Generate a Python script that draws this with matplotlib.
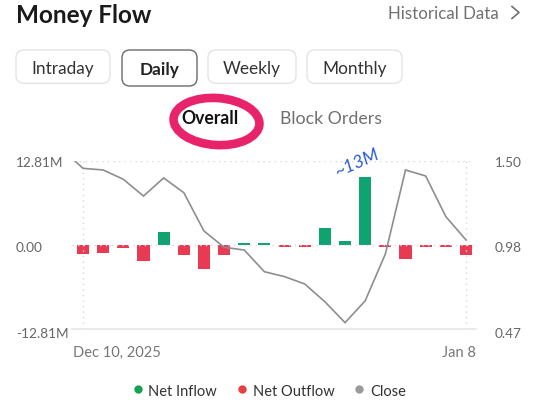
import numpy as np
import matplotlib
matplotlib.use("Agg")
import matplotlib.pyplot as plt
from matplotlib.patches import FancyBboxPatch, Ellipse
import matplotlib.transforms as mtransforms

# ---------------- data ----------------
dates = ["Dec 10, 2025", "Dec 11", "Dec 12", "Dec 15", "Dec 16", "Dec 17", "Dec 18",
         "Dec 19", "Dec 22", "Dec 23", "Dec 24", "Dec 26", "Dec 29", "Dec 30",
         "Dec 31", "Jan 2", "Jan 5", "Jan 6", "Jan 7", "Jan 8"]
net_flow = [-1.37, -1.27, -0.50, -2.39, 1.93, -1.53, -3.66, -1.58, 0.25, 0.25,
            -0.25, -0.25, 2.54, 0.56, 10.30, -0.25, -2.19, -0.25, -0.25, -1.47]  # M
close = [1.455, 1.445, 1.388, 1.285, 1.396, 1.306, 1.071, 0.971, 0.954, 0.821,
         0.791, 0.746, 0.637, 0.509, 0.643, 0.930, 1.445, 1.408, 1.159, 1.016]
prev_close = 1.50
left_ticks = [12.81, 0.0, -12.81]
left_tick_labels = ["12.81M", "0.00", "-12.81M"]
right_ticks = [1.50, 0.985, 0.47]
right_tick_labels = ["1.50", "0.98", "0.47"]
tabs = ["Intraday", "Daily", "Weekly", "Monthly"]
sub_tabs = ["Overall", "Block Orders"]
legend_labels = ["Net Inflow", "Net Outflow", "Close"]

# ---------------- style ----------------
W, H, DPI = 539, 413, 100
plt.rcParams['font.family'] = ['Lato', 'DejaVu Sans']
GREEN = '#0ea36f'
RED = '#e93a53'
LINE = '#8e8e8e'

fig = plt.figure(figsize=(W / DPI, H / DPI), dpi=DPI)
fig.patch.set_facecolor('white')


def fx(x):
    return x / W


def fy(y):
    return 1 - y / H


def inch(x, y):
    return (x / DPI, (H - y) / DPI)


# title row
fig.text(fx(16), fy(22.7), "Money Flow", fontsize=17.5, fontweight='bold',
         color='#1a1a1a', va='baseline', ha='left')
fig.text(fx(388), fy(18.9), "Historical Data", fontsize=12.2, color='#707070',
         va='baseline', ha='left')
fig.add_artist(plt.Line2D([fx(512), fx(519), fx(512)], [fy(6.5), fy(12.5), fy(18.5)],
                          color='#707070', lw=1.2, transform=fig.transFigure))

# tab buttons
boxes = [(16, 50, 110, 83.3), (122, 50, 197, 86), (208, 50, 296, 83.3), (307, 50, 402, 83.3)]
for i, (lab, (x0, y0, x1, y1)) in enumerate(zip(tabs, boxes)):
    sel = (lab == "Daily")
    bx, by = inch(x0, y1)
    p = FancyBboxPatch((bx, by), (x1 - x0) / DPI, (y1 - y0) / DPI,
                       boxstyle="round,pad=0,rounding_size=0.08",
                       transform=fig.dpi_scale_trans,
                       facecolor='white',
                       edgecolor='#6a6a6a' if sel else '#e4e4e4',
                       linewidth=1.0)
    fig.add_artist(p)
    fig.text(fx((x0 + x1) / 2), fy(75.5 if sel else 74), lab,
             fontsize=12.4, fontweight='bold' if sel else 'normal',
             color='#222222' if sel else '#333333', ha='center', va='baseline')

# sub tabs
fig.text(fx(181.7), fy(124.3), sub_tabs[0], fontsize=12.7, fontweight='bold',
         color='#111111', ha='left', va='baseline')
fig.text(fx(280), fy(124.3), sub_tabs[1], fontsize=12.8, color='#707070',
         ha='left', va='baseline')

# pink hand-drawn circle
ex, ey = inch(216.5, 121.5)
fig.add_artist(Ellipse((ex, ey), 0.86, 0.47, angle=-4, transform=fig.dpi_scale_trans,
                       facecolor='none', edgecolor='#e8236c', linewidth=6.2))

# ---------------- chart ----------------
L, R, T, B = 72, 476, 161, 329
ax = fig.add_axes([fx(L), fy(B), (R - L) / W, (B - T) / H])
ax.set_axis_off()
ax.set_xlim(-0.546, 19.496)
ax.set_ylim(-12.81, 12.81)
x = np.arange(len(net_flow))

dot = (0, (1, 3))
ax.axhline(left_ticks[0], color='#d8d8d8', lw=1.0, ls=dot, xmin=0.005, xmax=0.995)
ax.axhline(0, color='#d8d8d8', lw=1.0, ls=dot)
ax.axvline(0, color='#d8d8d8', lw=1.0, ls=dot)
ax.axvline(len(net_flow) - 1, color='#d8d8d8', lw=1.0, ls=dot)
ax.axhline(left_ticks[-1], color='#e6e6e6', lw=1.2, clip_on=False)

colors = [GREEN if v > 0 else RED for v in net_flow]
ax.bar(x, net_flow, width=0.6, color=colors, linewidth=0)

ax2 = ax.twinx()
ax2.set_axis_off()
ax2.set_ylim(right_ticks[-1], right_ticks[0])
ax2.plot(np.concatenate([[-0.4], x]), [prev_close] + close, color=LINE, lw=1.2,
         solid_joinstyle='miter')

# tick labels
offs = [6, 7, 9]
tl = mtransforms.blended_transform_factory(fig.transFigure, ax.transData)
tr = mtransforms.blended_transform_factory(fig.transFigure, ax2.transData)
for v, lab, o in zip(left_ticks, left_tick_labels, offs):
    t = tl + mtransforms.ScaledTranslation(0, -o / DPI, fig.dpi_scale_trans)
    fig.text(fx(16), v, lab, transform=t, fontsize=9.8, color='#666666',
             ha='left', va='baseline')
for v, lab, o in zip(right_ticks, right_tick_labels, offs):
    t = tr + mtransforms.ScaledTranslation(0, -o / DPI, fig.dpi_scale_trans)
    fig.text(fx(495), v, lab, transform=t, fontsize=9.8, color='#666666',
             ha='left', va='baseline')

# date labels
fig.text(fx(73), fy(356.7), dates[0], fontsize=10.5, color='#777777',
         ha='left', va='baseline')
fig.text(fx(476), fy(356.7), dates[-1], fontsize=10.5, color='#777777',
         ha='right', va='baseline')

# handwritten annotation
fig.text(fx(357), fy(163), "~13M", fontsize=13, color='#2a5bd7', style='italic',
         rotation=24, ha='center', va='center')

# legend
leg_colors = ['#17a150', '#e5403f', '#9a9a9a']
dot_x = [137.5, 241.7, 359]
txt_x = [148, 252.7, 370]
for c, dxp, txp, lab in zip(leg_colors, dot_x, txt_x, legend_labels):
    fig.add_artist(plt.Line2D([fx(dxp)], [fy(389)], marker='o', markersize=6,
                              color=c, markeredgewidth=0, transform=fig.transFigure))
    fig.text(fx(txp), fy(396), lab, fontsize=10.5, color='#333333',
             ha='left', va='baseline')

fig.savefig("out.png", dpi=DPI, facecolor='white')
